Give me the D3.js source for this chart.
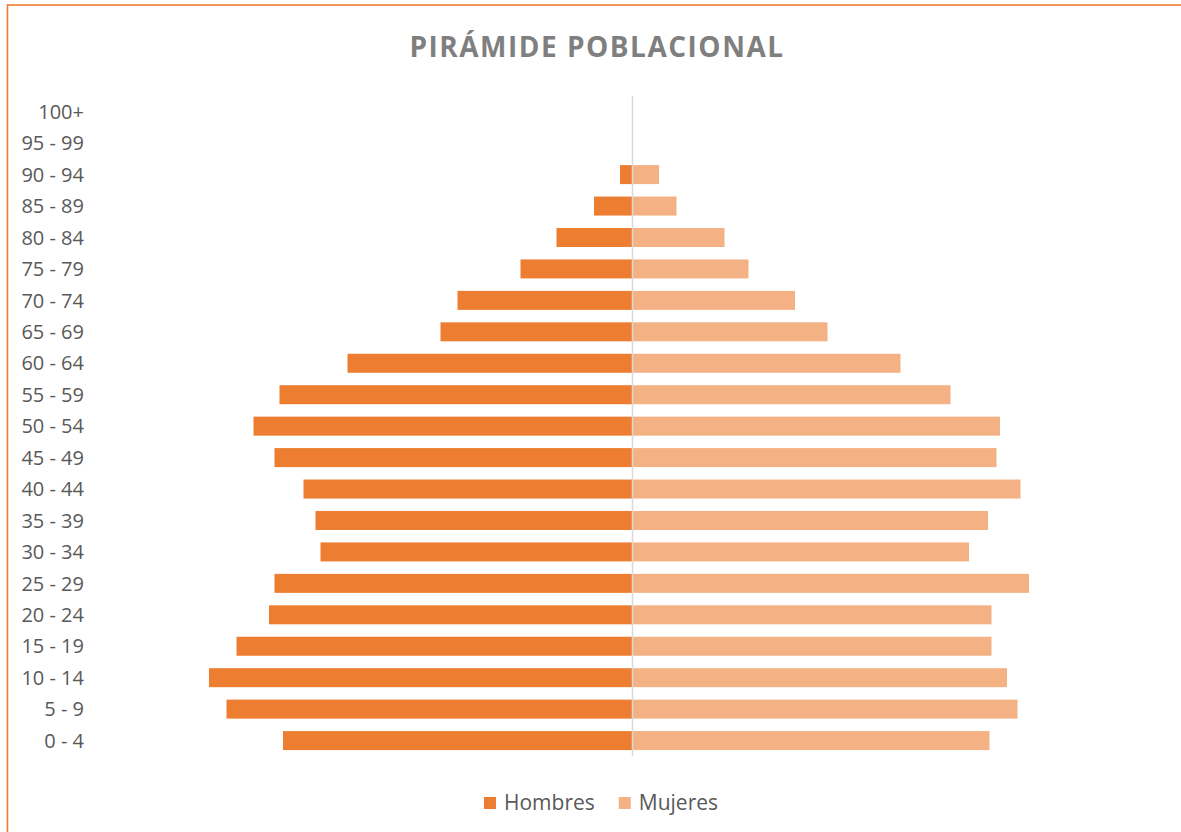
<!DOCTYPE html>
<html lang="es">
<head>
<meta charset="utf-8">
<title>Pirámide poblacional</title>
<script src="https://d3js.org/d3.v7.min.js"></script>
<style>
  body { margin: 0; background: #fff; }
  svg { display: block; font-family: "Open Sans", sans-serif; }
</style>
</head>
<body>
<div id="chart"></div>
<script>
// grupos de edad, de abajo hacia arriba
var ages = ["0 - 4", "5 - 9", "10 - 14", "15 - 19", "20 - 24", "25 - 29", "30 - 34",
  "35 - 39", "40 - 44", "45 - 49", "50 - 54", "55 - 59", "60 - 64", "65 - 69",
  "70 - 74", "75 - 79", "80 - 84", "85 - 89", "90 - 94", "95 - 99", "100+"];
var hombres = [349.5, 406, 423.5, 396, 363.5, 358, 312, 317, 329, 358, 379, 353,
  285, 192, 175, 112, 76, 38.5, 12.5, 0, 0];
var mujeres = [357, 385, 374.5, 359, 359, 396.5, 336.5, 355.5, 388, 364, 367.5, 318,
  268, 195, 162.5, 116, 92, 44, 26.5, 0, 0];
var series = ["Hombres", "Mujeres"];
var colors = ["#ED7D31", "#F4B183"];

var W = 1181, H = 832;

var svg = d3.select("#chart").append("svg")
    .attr("width", W)
    .attr("height", H);

// marco del gráfico
svg.append("rect")
    .attr("x", 7.5).attr("y", 5)
    .attr("width", W + 10).attr("height", H + 10)
    .attr("fill", "none")
    .attr("stroke", "#ED7D31")
    .attr("stroke-width", 1.6);

svg.append("text")
    .attr("x", 597).attr("y", 56.5)
    .attr("text-anchor", "middle")
    .attr("font-size", "28px")
    .attr("font-weight", "bold")
    .attr("letter-spacing", "1.5px")
    .attr("fill", "#7F7F7F")
    .text("PIRÁMIDE POBLACIONAL");

var x = d3.scaleLinear().domain([-500, 500]).range([132.5, 1132.5]);
var y = d3.scaleBand()
    .domain(ages.slice().reverse())
    .range([96, 756.3])
    .paddingInner(0.396)
    .paddingOuter(0.198);

var rows = ages.map(function(a, i) { return {age: a, h: hombres[i], m: mujeres[i]}; });

svg.append("g").selectAll("rect")
  .data(rows).enter().append("rect")
    .attr("x", function(d) { return x(-d.h); })
    .attr("y", function(d) { return y(d.age); })
    .attr("width", function(d) { return x(0) - x(-d.h); })
    .attr("height", y.bandwidth())
    .attr("fill", colors[0]);

svg.append("g").selectAll("rect")
  .data(rows).enter().append("rect")
    .attr("x", x(0))
    .attr("y", function(d) { return y(d.age); })
    .attr("width", function(d) { return x(d.m) - x(0); })
    .attr("height", y.bandwidth())
    .attr("fill", colors[1]);

// eje central
svg.append("line")
    .attr("x1", x(0)).attr("x2", x(0))
    .attr("y1", y.range()[0]).attr("y2", y.range()[1])
    .attr("stroke", "#D9D9D9")
    .attr("stroke-width", 1.5);

var yAxis = svg.append("g")
    .attr("transform", "translate(87,0)")
    .call(d3.axisLeft(y).tickSize(0).tickPadding(3));
yAxis.select(".domain").remove();
yAxis.selectAll("text")
    .attr("font-family", "'Open Sans', sans-serif")
    .attr("font-size", "20px")
    .attr("fill", "#595959")
    .attr("dy", "0.36em");

// leyenda
var legend = svg.append("g");
var items = legend.selectAll("g")
  .data(series).enter().append("g");
items.append("rect")
    .attr("width", 12).attr("height", 12)
    .attr("y", 797)
    .attr("fill", function(d, i) { return colors[i]; });
items.append("text")
    .attr("x", 20).attr("y", 810)
    .attr("font-size", "21px")
    .attr("fill", "#595959")
    .text(function(d) { return d; });

var pos = 0, offsets = [];
items.each(function(d, i) {
  offsets.push(pos);
  pos += 20 + d3.select(this).select("text").node().getComputedTextLength() + 24;
});
var total = pos - 24;
var startX = 601 - total / 2;
items.attr("transform", function(d, i) { return "translate(" + (startX + offsets[i]) + ",0)"; });
</script>
</body>
</html>
